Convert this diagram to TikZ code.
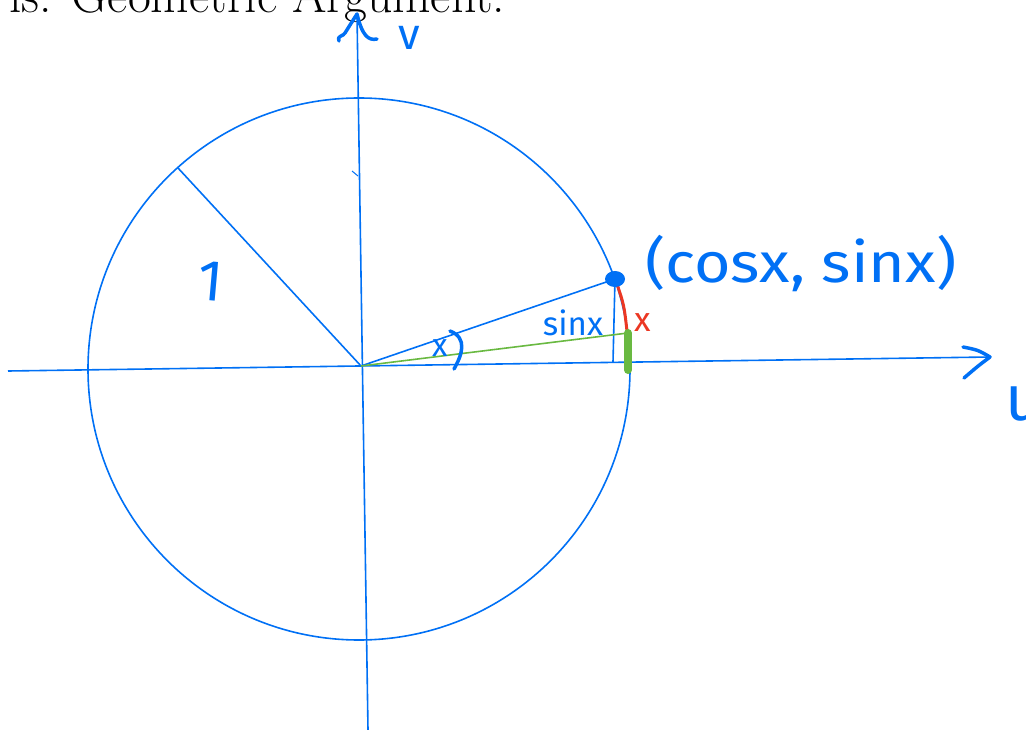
\documentclass[tikz,border=0pt]{standalone}
\usepackage{fontspec}
\newfontfamily\hand{Fira Sans}
\definecolor{pen}{RGB}{0,112,245}
\definecolor{redpen}{RGB}{235,55,35}
\definecolor{greenpen}{RGB}{105,185,65}
\tikzset{
  thinline/.style={draw=pen, line width=1.6pt},
  hwstroke/.style={draw=pen, line width=4.5pt, line cap=round, line join=round},
  hwlabel/.style={text=pen, font=\hand, inner sep=0pt},
}
\begin{document}
\begin{tikzpicture}[x=1pt,y=-1pt]
\useasboundingbox (0,0) rectangle (1026,730);
\clip (0,0) rectangle (1026,730);
% heading (cut off at top)
\node[anchor=base west, inner sep=0pt, font=\fontsize{49.7}{54}\selectfont] (title) at (9,13) {is: Geometric Argument.};
% key points
\coordinate (O) at (361,366);
\coordinate (C) at (359,369);
\coordinate (P) at (615,279);
\coordinate (Pf) at (613,362);
\coordinate (Q) at (628,333);
\coordinate (Qf) at (628,370);
\coordinate (R) at (178,168);
\coordinate (xl) at (8,371);
\coordinate (xr) at (990,357);
\coordinate (yt) at (357,14);
\coordinate (yb) at (368,730);
% circle
\draw[thinline] (C) circle[radius=271pt];
% axes
\draw[thinline] (xl) -- (xr);
\draw[thinline] (yt) -- (yb);
% arrow heads (hand drawn)
\draw[hwstroke, line width=3.5pt] (963,347) .. controls (978,350) .. (xr) .. controls (978,366) .. (964,378);
\draw[hwstroke, line width=3.5pt] (339,41) .. controls (336,36) and (344,36) .. (345,33) .. controls (350,25) .. (yt) .. controls (362,35) and (368,41) .. (377,39);
% tick
\draw[draw=pen, line width=1pt] (352,171) -- (358,176);
% radius
\draw[thinline] (O) -- (R);
% radius to point
\draw[thinline] (O) -- (P);
\draw[thinline] (P) -- (Pf);
% green line
\draw[draw=greenpen, line width=1.6pt] (O) -- (Q);
% red arc length
\draw[draw=redpen, line width=3pt, line cap=round] (617,284) .. controls (624,305) .. (627,331);
% thick green segment
\draw[draw=greenpen, line width=8pt, line cap=round] (Q) -- (Qf);
% dot
\fill[pen] (P) ellipse[x radius=10pt, y radius=8pt];
% angle arc
\draw[hwstroke, line width=3.5pt] (450,331) .. controls (468,338) and (462,355) .. (454,369);
% labels
\node[hwlabel, font=\hand\fontsize{44}{44}\selectfont] (vlab) at (409,38) {v};
\node[hwlabel, font=\hand\fontsize{64}{64}\selectfont] (ulab) at (1024,404) {u};
\node[hwlabel, font=\hand\fontsize{58}{58}\selectfont, rotate=-5] (one) at (211,281) {1};
\node[hwlabel, font=\hand\fontsize{32}{32}\selectfont] (anglab) at (440,348) {x};
\node[hwlabel, font=\hand\fontsize{33}{33}\selectfont] (sinlab) at (573,323) {sinx};
\node[hwlabel, text=redpen, font=\hand\fontsize{34}{34}\selectfont] (xred) at (643,323) {x};
\node[hwlabel, anchor=west, xscale=1.12, font=\hand\fontsize{56}{56}\selectfont] (pt) at (645,263) {(cosx, sinx)};
\end{tikzpicture}
\end{document}
